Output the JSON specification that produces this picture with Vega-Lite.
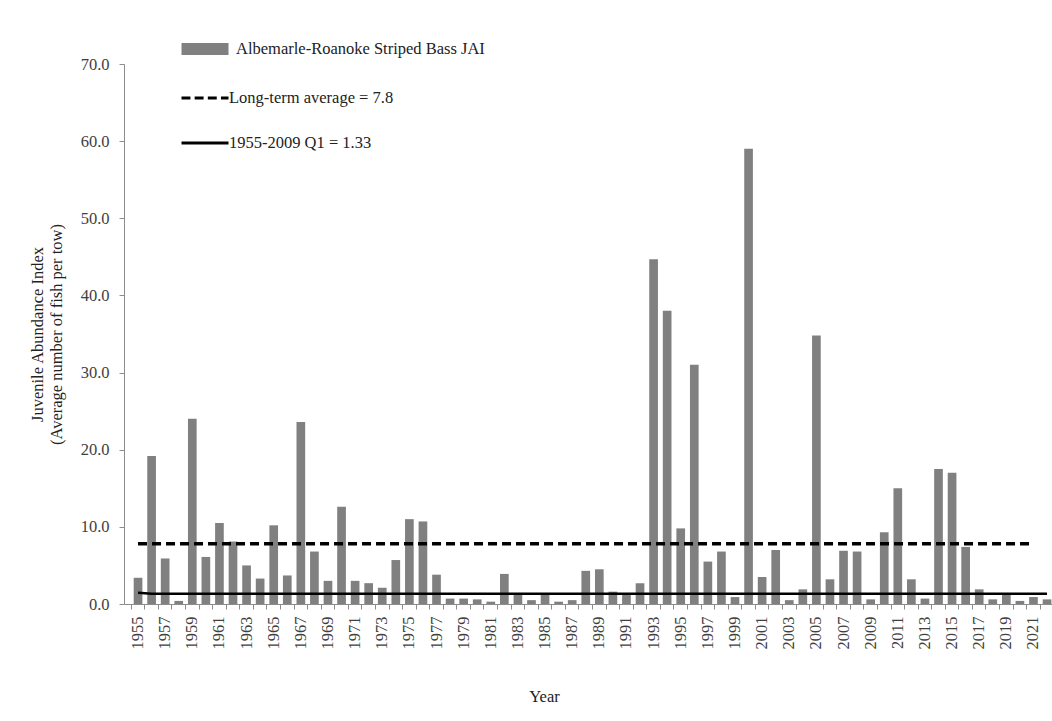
{
  "$schema": "https://vega.github.io/schema/vega-lite/v6.json",
  "width": 928,
  "height": 540,
  "autosize": {"type": "none"},
  "padding": {"left": 124, "top": 64, "right": 0, "bottom": 117},
  "background": "white",
  "config": {
    "font": "Liberation Serif",
    "view": {"stroke": null},
    "axis": {"grid": false, "labelFont": "Liberation Serif", "titleFont": "Liberation Serif", "labelColor": "#404040", "titleColor": "#222", "titleFontWeight": "normal", "labelFontSize": 16.5, "titleFontSize": 16.5, "domainColor": "#8c8c8c", "tickColor": "#8c8c8c"},
    "legend": {"labelFont": "Liberation Serif"}
  },
  "data": {"values": [
    {"year": 1955, "jai": 3.4, "avg": 7.8, "q1": 1.46},
    {"year": 1956, "jai": 19.2, "avg": 7.8, "q1": 1.33},
    {"year": 1957, "jai": 5.9, "avg": 7.8, "q1": 1.33},
    {"year": 1958, "jai": 0.4, "avg": 7.8, "q1": 1.33},
    {"year": 1959, "jai": 24.0, "avg": 7.8, "q1": 1.33},
    {"year": 1960, "jai": 6.1, "avg": 7.8, "q1": 1.33},
    {"year": 1961, "jai": 10.5, "avg": 7.8, "q1": 1.33},
    {"year": 1962, "jai": 8.1, "avg": 7.8, "q1": 1.33},
    {"year": 1963, "jai": 5.0, "avg": 7.8, "q1": 1.33},
    {"year": 1964, "jai": 3.3, "avg": 7.8, "q1": 1.33},
    {"year": 1965, "jai": 10.2, "avg": 7.8, "q1": 1.33},
    {"year": 1966, "jai": 3.7, "avg": 7.8, "q1": 1.33},
    {"year": 1967, "jai": 23.6, "avg": 7.8, "q1": 1.33},
    {"year": 1968, "jai": 6.8, "avg": 7.8, "q1": 1.33},
    {"year": 1969, "jai": 3.0, "avg": 7.8, "q1": 1.33},
    {"year": 1970, "jai": 12.6, "avg": 7.8, "q1": 1.33},
    {"year": 1971, "jai": 3.0, "avg": 7.8, "q1": 1.33},
    {"year": 1972, "jai": 2.7, "avg": 7.8, "q1": 1.33},
    {"year": 1973, "jai": 2.1, "avg": 7.8, "q1": 1.33},
    {"year": 1974, "jai": 5.7, "avg": 7.8, "q1": 1.33},
    {"year": 1975, "jai": 11.0, "avg": 7.8, "q1": 1.33},
    {"year": 1976, "jai": 10.7, "avg": 7.8, "q1": 1.33},
    {"year": 1977, "jai": 3.8, "avg": 7.8, "q1": 1.33},
    {"year": 1978, "jai": 0.7, "avg": 7.8, "q1": 1.33},
    {"year": 1979, "jai": 0.7, "avg": 7.8, "q1": 1.33},
    {"year": 1980, "jai": 0.6, "avg": 7.8, "q1": 1.33},
    {"year": 1981, "jai": 0.3, "avg": 7.8, "q1": 1.33},
    {"year": 1982, "jai": 3.9, "avg": 7.8, "q1": 1.33},
    {"year": 1983, "jai": 1.2, "avg": 7.8, "q1": 1.33},
    {"year": 1984, "jai": 0.5, "avg": 7.8, "q1": 1.33},
    {"year": 1985, "jai": 1.3, "avg": 7.8, "q1": 1.33},
    {"year": 1986, "jai": 0.3, "avg": 7.8, "q1": 1.33},
    {"year": 1987, "jai": 0.5, "avg": 7.8, "q1": 1.33},
    {"year": 1988, "jai": 4.3, "avg": 7.8, "q1": 1.33},
    {"year": 1989, "jai": 4.5, "avg": 7.8, "q1": 1.33},
    {"year": 1990, "jai": 1.6, "avg": 7.8, "q1": 1.33},
    {"year": 1991, "jai": 1.2, "avg": 7.8, "q1": 1.33},
    {"year": 1992, "jai": 2.7, "avg": 7.8, "q1": 1.33},
    {"year": 1993, "jai": 44.7, "avg": 7.8, "q1": 1.33},
    {"year": 1994, "jai": 38.0, "avg": 7.8, "q1": 1.33},
    {"year": 1995, "jai": 9.8, "avg": 7.8, "q1": 1.33},
    {"year": 1996, "jai": 31.0, "avg": 7.8, "q1": 1.33},
    {"year": 1997, "jai": 5.5, "avg": 7.8, "q1": 1.33},
    {"year": 1998, "jai": 6.8, "avg": 7.8, "q1": 1.33},
    {"year": 1999, "jai": 0.9, "avg": 7.8, "q1": 1.33},
    {"year": 2000, "jai": 59.0, "avg": 7.8, "q1": 1.33},
    {"year": 2001, "jai": 3.5, "avg": 7.8, "q1": 1.33},
    {"year": 2002, "jai": 7.0, "avg": 7.8, "q1": 1.33},
    {"year": 2003, "jai": 0.5, "avg": 7.8, "q1": 1.33},
    {"year": 2004, "jai": 1.9, "avg": 7.8, "q1": 1.33},
    {"year": 2005, "jai": 34.8, "avg": 7.8, "q1": 1.33},
    {"year": 2006, "jai": 3.2, "avg": 7.8, "q1": 1.33},
    {"year": 2007, "jai": 6.9, "avg": 7.8, "q1": 1.33},
    {"year": 2008, "jai": 6.8, "avg": 7.8, "q1": 1.33},
    {"year": 2009, "jai": 0.6, "avg": 7.8, "q1": 1.33},
    {"year": 2010, "jai": 9.3, "avg": 7.8, "q1": 1.33},
    {"year": 2011, "jai": 15.0, "avg": 7.8, "q1": 1.33},
    {"year": 2012, "jai": 3.2, "avg": 7.8, "q1": 1.33},
    {"year": 2013, "jai": 0.7, "avg": 7.8, "q1": 1.33},
    {"year": 2014, "jai": 17.5, "avg": 7.8, "q1": 1.33},
    {"year": 2015, "jai": 17.0, "avg": 7.8, "q1": 1.33},
    {"year": 2016, "jai": 7.4, "avg": 7.8, "q1": 1.33},
    {"year": 2017, "jai": 1.9, "avg": 7.8, "q1": 1.33},
    {"year": 2018, "jai": 0.6, "avg": 7.8, "q1": 1.33},
    {"year": 2019, "jai": 1.3, "avg": 7.8, "q1": 1.33},
    {"year": 2020, "jai": 0.4, "avg": 7.8, "q1": 1.33},
    {"year": 2021, "jai": 0.9, "avg": 7.8, "q1": 1.33},
    {"year": 2022, "jai": 0.6, "avg": null, "q1": 1.33}
  ]},
  "resolve": {"axis": {"x": "independent"}},
  "layer": [
    {
      "mark": {"type": "bar", "color": "#808080"},
      "encoding": {
        "x": {"field": "year", "type": "ordinal",
          "scale": {"paddingInner": 0.36, "paddingOuter": 0.38, "align": 0.94},
          "axis": {"orient": "bottom", "ticks": false, "tickSize": 0, "labelPadding": 12, "labelAngle": -90,
            "values": [1955,1957,1959,1961,1963,1965,1967,1969,1971,1973,1975,1977,1979,1981,1983,1985,1987,1989,1991,1993,1995,1997,1999,2001,2003,2005,2007,2009,2011,2013,2015,2017,2019,2021],
            "title": "Year", "titleX": 420, "titleY": 84, "titleBaseline": "top", "titleAnchor": "middle"}},
        "y": {"field": "jai", "type": "quantitative",
          "scale": {"domain": [0, 70], "nice": false},
          "axis": {"values": [0,10,20,30,40,50,60,70], "format": ".1f", "tickSize": 5, "labelPadding": 10,
            "title": ["Juvenile Abundance Index", "(Average number of fish per tow)"], "titleLineHeight": 19,
            "titleX": -79, "titleY": 270, "titleAnchor": "middle"}},
        "color": {"datum": "Albemarle-Roanoke Striped Bass JAI", "type": "nominal",
          "scale": {"domain": ["Albemarle-Roanoke Striped Bass JAI", "Long-term average = 7.8", "1955-2009 Q1 = 1.33"], "range": ["#808080", "#000000", "#000000"]},
          "legend": {"title": null, "orient": "none", "legendX": 56, "legendY": -40, "padding": 0,
            "symbolSize": 2209, "symbolStrokeWidth": 3, "rowPadding": 11, "labelOffset": 6, "labelFontSize": 16.5, "labelColor": "#222", "labelLimit": 500,
            "encode": {
              "symbols": {"update": {
                "size": {"value": 2209},
                "shape": {"signal": "datum.value === 'Albemarle-Roanoke Striped Bass JAI' ? 'M-1,-0.26H1V0.26H-1Z' : datum.value === 'Long-term average = 7.8' ? 'M-1,0H-0.62M-0.44,0H-0.06M0.12,0H0.5M0.68,0H1' : 'M-1,0H1'"},
                "fill": {"signal": "datum.value === 'Albemarle-Roanoke Striped Bass JAI' ? '#808080' : 'transparent'"},
                "stroke": {"signal": "datum.value === 'Albemarle-Roanoke Striped Bass JAI' ? 'transparent' : 'black'"},
                "opacity": {"value": 1}
              }},
              "labels": {"update": {"dx": {"signal": "datum.value === 'Albemarle-Roanoke Striped Bass JAI' ? 0 : -7"}}}
            }}}
      }
    },
    {
      "transform": [{"filter": "isValid(datum.avg)"}],
      "mark": {"type": "line", "color": "black", "strokeWidth": 3.5, "strokeDash": [9, 5]},
      "encoding": {
        "x": {"field": "year", "type": "ordinal",
          "axis": {"orient": "bottom", "labels": false, "domain": false, "ticks": true, "tickSize": 5, "bandPosition": -0.28125, "title": null}},
        "y": {"field": "avg", "type": "quantitative"}
      }
    },
    {
      "mark": {"type": "line", "color": "black", "strokeWidth": 2.5},
      "encoding": {
        "x": {"field": "year", "type": "ordinal", "axis": null},
        "y": {"field": "q1", "type": "quantitative"}
      }
    }
  ]
}
